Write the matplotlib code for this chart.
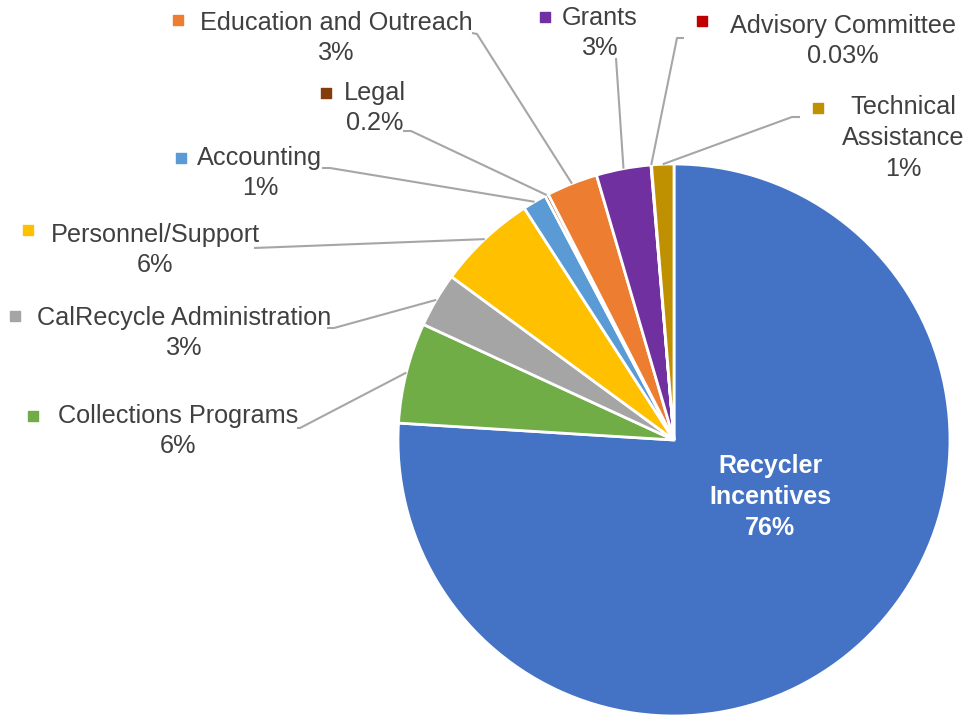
import numpy as np
import matplotlib
matplotlib.use('Agg')
import matplotlib.pyplot as plt

plt.rcParams['font.family'] = ['Liberation Sans', 'DejaVu Sans']

# data (percent of budget)
names = ['Recycler\nIncentives', 'Collections Programs', 'CalRecycle Administration',
         'Personnel/Support', 'Accounting', 'Legal', 'Education and Outreach',
         'Grants', 'Advisory Committee', 'Technical\nAssistance']
values = [76.0, 5.9, 3.2, 5.8, 1.4, 0.2, 3.0, 3.2, 0.03, 1.3]
pct_labels = ['76%', '6%', '3%', '6%', '1%', '0.2%', '3%', '3%', '0.03%', '1%']
colors = ['#4472C4', '#70AD47', '#A5A5A5', '#FFC000', '#5B9BD5', '#843C0C',
          '#ED7D31', '#7030A0', '#C00000', '#BF9000']

W, H = 972, 717
CX, CY, R = 674, 440, 276   # pie centre / radius in image pixels

# label layout in image pixels: text centre, key square, leader anchor, leader elbow
text_pos = [(770, 497), (178, 431), (184, 333), (155, 250), (260, 173), (375, 108),
            (336, 38), (600, 33), (843, 41), (903, 138)]
key_pos = [None, (33, 416), (15, 316), (28, 230), (181, 158), (326, 93),
           (178, 20), (545, 17), (702, 21), (818, 108)]
anchor = [None, (297, 428), (327, 328), (254, 248), (322, 168), (403, 131),
          (472, 33), (616, 58), (684, 38), (800, 117)]
elbow = [None, (300, 428), (334, 328), (254, 248), (330, 168), (411, 131),
         (477, 34), (616, 58), (677, 38), (792, 117)]


def py(y):
  return H - y


def main():
  fig = plt.figure(figsize=(W / 100, H / 100), dpi=100)
  ax = fig.add_axes([0, 0, 1, 1])

  wedges, _ = ax.pie(values, colors=colors, startangle=90, counterclock=False,
                     center=(CX, py(CY)), radius=R,
                     wedgeprops=dict(edgecolor='white', linewidth=2))
  ax.set_xlim(0, W)
  ax.set_ylim(0, H)
  ax.axis('off')

  for i, w in enumerate(wedges):
    label = names[i] + '\n' + pct_labels[i]
    tx, ty = text_pos[i]
    if i == 0:
      ax.text(tx, py(ty), label, ha='center', va='center', fontsize=18,
              fontweight='bold', color='white', linespacing=1.35)
      continue
    ax.text(tx, py(ty), label, ha='center', va='center', fontsize=18.2,
            color='#404040', linespacing=1.35)
    kx, ky = key_pos[i]
    ax.scatter([kx], [py(ky)], marker='s', s=48, color=colors[i], zorder=5)

    mid = np.deg2rad((w.theta1 + w.theta2) / 2)
    rx = CX + R * np.cos(mid)
    ry = py(CY) + R * np.sin(mid)
    ax0, ay0 = anchor[i]
    ex, ey = elbow[i]
    ax.plot([ax0, ex, rx], [py(ay0), py(ey), ry], color='#A6A6A6', lw=1.5,
            solid_capstyle='butt', zorder=1)

  fig.savefig('out.png', dpi=100)


main()
